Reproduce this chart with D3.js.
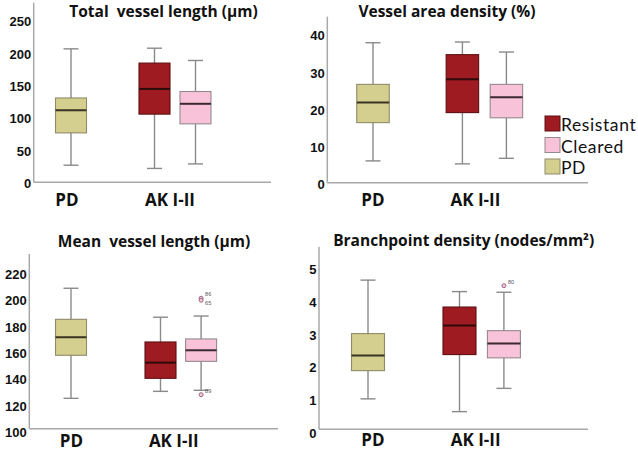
<!DOCTYPE html>
<html><head><meta charset="utf-8">
<script src="https://cdn.jsdelivr.net/npm/d3@7"></script>
<style>body{margin:0;background:#fff} svg{display:block}</style>
</head><body><svg width="638" height="451"></svg>
<script>
// ---- data ----
const categories = ["PD", "AK I-II"];
const subgroups = ["Resistant", "Cleared"];
const legendGroups = ["Resistant", "Cleared", "PD"];
const titles = ["Total  vessel length (µm)", "Vessel area density (%)", "Mean  vessel length (µm)", "Branchpoint density (nodes/mm²)"];
// box stats: [min, Q1, median, Q3, max]
const totalLengthPD = [28, 78, 113, 132, 208];
const totalLengthResistant = [23, 107, 146, 186, 209];
const totalLengthCleared = [30, 92, 123, 142, 190];
const areaDensityPD = [6.3, 16.6, 22.0, 26.9, 38.1];
const areaDensityResistant = [5.5, 19.3, 28.3, 34.9, 38.3];
const areaDensityCleared = [7.0, 17.9, 23.4, 26.9, 35.6];
const meanLengthPD = [125.8, 158.5, 172.2, 185.8, 209.4];
const meanLengthResistant = [131.1, 141.0, 152.9, 168.6, 187.4];
const meanLengthCleared = [131.9, 153.9, 162.3, 170.9, 188.3];
const branchDensityPD = [1.05, 1.91, 2.37, 3.04, 4.67];
const branchDensityResistant = [0.66, 2.40, 3.29, 3.85, 4.32];
const branchDensityCleared = [1.37, 2.30, 2.74, 3.13, 4.30];
// outliers (Cleared group)
const meanLengthOutlierValues = [201.8, 200.3, 128.6];
const meanLengthOutlierLabels = ["86", "65", "89"];
const branchDensityOutlierValues = [4.5];
const branchDensityOutlierLabels = ["80"];
// tick labels
const ticks1 = [0, 50, 100, 150, 200, 250];
const ticks2 = [0, 10, 20, 30, 40];
const ticks3 = [100, 120, 140, 160, 180, 200, 220];
const ticks4 = [0, 1, 2, 3, 4, 5];

// ---- styles ----
const fills = {PD: "#d4ce8f", Resistant: "#9e1b21", Cleared: "#f8c3d9"};
const strokes = {PD: "#8f8b68", Resistant: "#5e1013", Cleared: "#948a8e"};
const medians = {PD: "#3a3322", Resistant: "#2e0a0a", Cleared: "#3a2a30"};

// ---- layout ----
const panels = [
  {title: titles[0], stats: {PD: totalLengthPD, Resistant: totalLengthResistant, Cleared: totalLengthCleared},
   ticks: ticks1, domain: [0, 250], range: [183.3, 21.7], axisX: 33.7, axisTop: 2.7, baseY: 182.3, right: 271,
   cPD: 71, cAK: 175, d: 20.5, bw: 31, tx: 163.5, ty: 16.5, catY: 206, labShift: [-4, -5],
   out: [], outLab: []},
  {title: titles[1], stats: {PD: areaDensityPD, Resistant: areaDensityResistant, Cleared: areaDensityCleared},
   ticks: ticks2, domain: [0, 40], range: [184.3, 35.7], axisX: 327.3, axisTop: 16.7, baseY: 182.7, right: 588,
   cPD: 373, cAK: 484.4, d: 22, bw: 32.5, tx: 447, ty: 16.5, catY: 206, labShift: [0, -9],
   out: [], outLab: []},
  {title: titles[2], stats: {PD: meanLengthPD, Resistant: meanLengthResistant, Cleared: meanLengthCleared},
   ticks: ticks3, domain: [100, 220], range: [432.3, 274.3], axisX: 29.3, axisTop: 254, baseY: 428.7, right: 278,
   cPD: 71, cAK: 180.8, d: 20.3, bw: 31, tx: 154, ty: 247, catY: 446.5, labShift: [0.5, -7],
   out: meanLengthOutlierValues, outLab: meanLengthOutlierLabels},
  {title: titles[3], stats: {PD: branchDensityPD, Resistant: branchDensityResistant, Cleared: branchDensityCleared},
   ticks: ticks4, domain: [0, 5], range: [433.3, 269.3], axisX: 319, axisTop: 247, baseY: 429.3, right: 588,
   cPD: 368, cAK: 481.7, d: 22.2, bw: 33, tx: 463.7, ty: 246, catY: 445.5, labShift: [5, -6],
   out: branchDensityOutlierValues, outLab: branchDensityOutlierLabels}
];

const svg = d3.select("svg");
const titleFont = "'Open Sans', 'DejaVu Sans', sans-serif";

panels.forEach(p => {
  const g = svg.append("g");
  const y = d3.scaleLinear().domain(p.domain).range(p.range);
  const xCat = d3.scalePoint().domain(categories).range([p.cPD, p.cAK]);
  const xSub = d3.scalePoint().domain(subgroups).range([-p.d, p.d]);
  const boxX = grp => grp === "PD" ? xCat("PD") : xCat("AK I-II") + xSub(grp);

  // y axis labels
  const ax = g.append("g").attr("transform", `translate(${p.axisX - 2.5},0)`)
    .call(d3.axisLeft(y).tickValues(p.ticks).tickSize(0).tickPadding(0).tickFormat(d3.format("d")));
  ax.select(".domain").remove();
  ax.selectAll("text").attr("font-family", "'Liberation Sans', Arial, sans-serif")
    .attr("font-weight", "bold").attr("font-size", 13).attr("fill", "#111");

  // axis lines
  g.append("line").attr("x1", p.axisX).attr("x2", p.axisX).attr("y1", p.axisTop).attr("y2", p.baseY)
    .attr("stroke", "#a8a8a8").attr("stroke-width", 1.5);
  g.append("line").attr("x1", p.axisX).attr("x2", p.right).attr("y1", p.baseY).attr("y2", p.baseY)
    .attr("stroke", "#a8a8a8").attr("stroke-width", 1.5);

  // boxes
  ["PD", "Resistant", "Cleared"].forEach(grp => {
    const s = p.stats[grp];
    const cx = boxX(grp);
    const bg = g.append("g");
    bg.append("line").attr("x1", cx).attr("x2", cx).attr("y1", y(s[0])).attr("y2", y(s[4]))
      .attr("stroke", "#8a8a8a").attr("stroke-width", 1.4);
    [s[0], s[4]].forEach(v => {
      bg.append("line").attr("x1", cx - 7.5).attr("x2", cx + 7.5).attr("y1", y(v)).attr("y2", y(v))
        .attr("stroke", "#8a8a8a").attr("stroke-width", 1.4);
    });
    bg.append("rect").attr("x", cx - p.bw / 2).attr("width", p.bw)
      .attr("y", y(s[3])).attr("height", y(s[1]) - y(s[3]))
      .attr("fill", fills[grp]).attr("stroke", strokes[grp]).attr("stroke-width", 1.1);
    bg.append("line").attr("x1", cx - p.bw / 2).attr("x2", cx + p.bw / 2).attr("y1", y(s[2])).attr("y2", y(s[2]))
      .attr("stroke", medians[grp]).attr("stroke-width", 2);
  });

  // outliers (Cleared)
  const ox = boxX("Cleared");
  p.out.forEach((v, i) => {
    g.append("circle").attr("cx", ox).attr("cy", y(v)).attr("r", 2)
      .attr("fill", "#f3c6da").attr("stroke", "#8e5d7a").attr("stroke-width", 0.9);
    const near = p.out.filter((w, j) => j !== i && Math.abs(y(w) - y(v)) < 6);
    let dy = -2;
    if (near.length) dy = (v > near[0]) ? -2 : 4.5;
    g.append("text").attr("x", ox + 4).attr("y", y(v) + dy)
      .attr("font-family", "'Liberation Sans', Arial, sans-serif").attr("font-size", 5.5)
      .attr("fill", "#555").text(p.outLab[i]);
  });

  // category labels
  categories.forEach((c, i) => {
    g.append("text").attr("x", xCat(c) + p.labShift[i]).attr("y", p.catY)
      .attr("text-anchor", "middle").attr("font-family", titleFont).attr("font-weight", "bold")
      .attr("font-size", 17).attr("fill", "#111").text(c);
  });

  // title
  g.append("text").attr("x", p.tx).attr("y", p.ty).attr("text-anchor", "middle")
    .attr("font-family", titleFont).attr("font-weight", "bold").attr("font-size", 15.5)
    .attr("fill", "#111").style("white-space", "pre").text(p.title);
});

// legend
const lg = svg.append("g");
const ly = d3.scalePoint().domain(legendGroups).range([116, 159]);
legendGroups.forEach(grp => {
  lg.append("rect").attr("x", 545).attr("y", ly(grp)).attr("width", 15).attr("height", 15)
    .attr("fill", fills[grp]).attr("stroke", strokes[grp]).attr("stroke-width", 1);
  lg.append("text").attr("x", 561).attr("y", ly(grp) + 15)
    .attr("font-family", "Lato, 'Open Sans', sans-serif").attr("font-size", 17.5)
    .attr("letter-spacing", 0.6).attr("fill", "#111").text(grp);
});
</script>
</body></html>
